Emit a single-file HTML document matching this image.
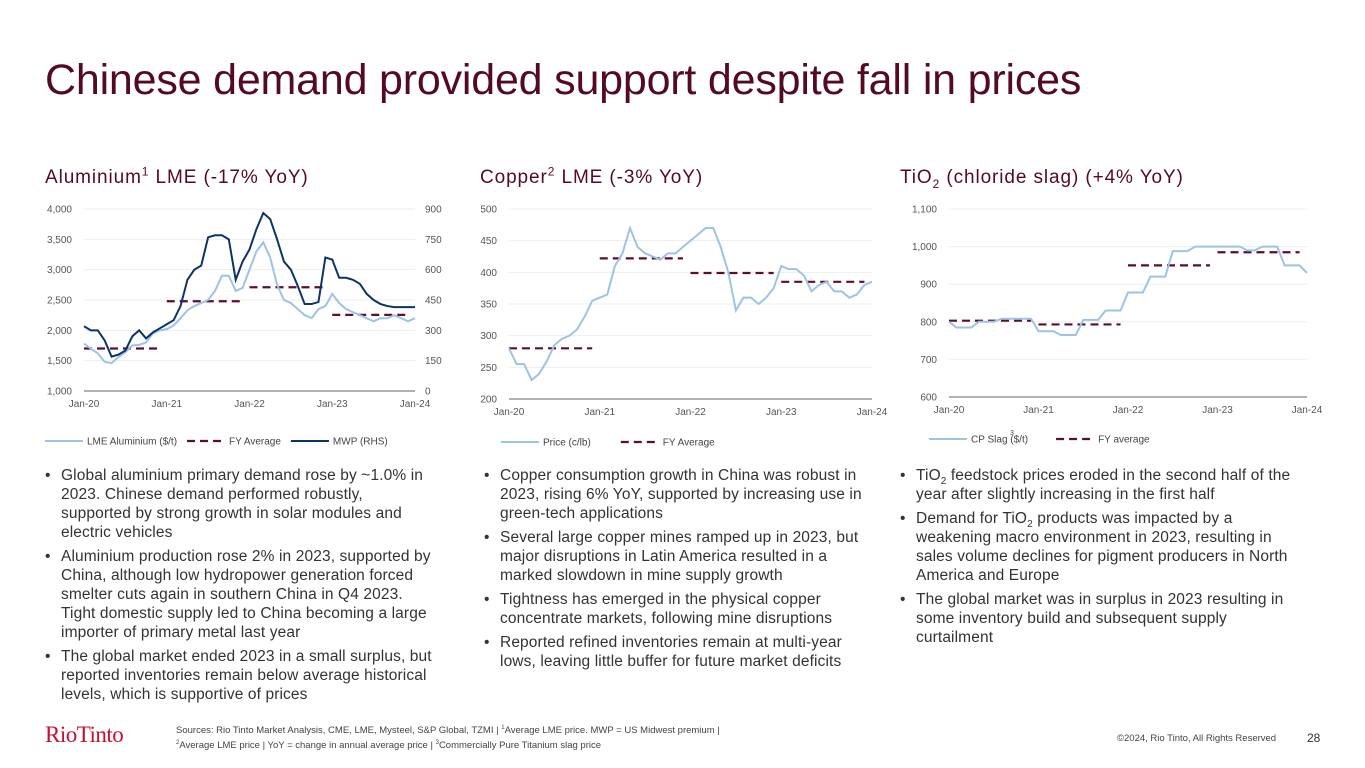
<!DOCTYPE html>
<html><head><meta charset="utf-8"><style>
body{margin:0;width:1365px;height:768px;background:#fff;position:relative;overflow:hidden;font-family:"Liberation Sans",sans-serif;}
.abs{position:absolute;}
h1{position:absolute;left:45px;top:56px;margin:0;font-weight:normal;font-size:43px;color:#540a26;letter-spacing:-0.2px;}
.st{position:absolute;top:167px;font-size:19px;color:#540a26;letter-spacing:0.9px;}
.st sup{font-size:12px;line-height:0;}
.st sub{font-size:12px;line-height:0;}
ul{position:absolute;margin:0;padding:0;list-style:none;font-size:15.5px;letter-spacing:0.12px;line-height:19px;color:#333;}
li{position:relative;padding-left:16px;margin-bottom:5px;}
li:before{content:"•";position:absolute;left:0;}
li sub{font-size:10px;line-height:0;}
svg text{font-family:"Liberation Sans",sans-serif;}
</style></head><body>
<h1>Chinese demand provided support despite fall in prices</h1>
<div class="st" style="left:45px">Aluminium<sup>1</sup> LME (-17% YoY)</div>
<div class="st" style="left:480px">Copper<sup>2</sup> LME (-3% YoY)</div>
<div class="st" style="left:900px">TiO<sub>2</sub> (chloride slag) (+4% YoY)</div>

<svg id="chart" class="abs" style="left:0;top:0" width="1365" height="768"></svg>

<ul style="left:45px;top:466px;width:390px">
<li>Global aluminium primary demand rose by ~1.0% in 2023. Chinese demand performed robustly, supported by strong growth in solar modules and electric vehicles</li>
<li>Aluminium production rose 2% in 2023, supported by China, although low hydropower generation forced smelter cuts again in southern China in Q4 2023. Tight domestic supply led to China becoming a large importer of primary metal last year</li>
<li>The global market ended 2023 in a small surplus, but reported inventories remain below average historical levels, which is supportive of prices</li>
</ul>
<ul style="left:484px;top:466px;width:385px">
<li>Copper consumption growth in China was robust in 2023, rising 6% YoY, supported by increasing use in green-tech applications</li>
<li>Several large copper mines ramped up in 2023, but major disruptions in Latin America resulted in a marked slowdown in mine supply growth</li>
<li>Tightness has emerged in the physical copper concentrate markets, following mine disruptions</li>
<li>Reported refined inventories remain at multi-year lows, leaving little buffer for future market deficits</li>
</ul>
<ul style="left:900px;top:466px;width:406px">
<li>TiO<sub>2</sub> feedstock prices eroded in the second half of the year after slightly increasing in the first half</li>
<li>Demand for TiO<sub>2</sub> products was impacted by a weakening macro environment in 2023, resulting in sales volume declines for pigment producers in North America and Europe</li>
<li>The global market was in surplus in 2023 resulting in some inventory build and subsequent supply curtailment</li>
</ul>

<div class="abs" style="left:45px;top:722px;font-family:'Liberation Serif',serif;font-size:23px;color:#c8102e;letter-spacing:-0.5px">RioTinto</div>
<div class="abs" style="left:176px;top:722px;font-size:9.5px;line-height:12px;color:#444">Sources: Rio Tinto Market Analysis, CME, LME, Mysteel, S&amp;P Global, TZMI | <sup style="font-size:6px">1</sup>Average LME price. MWP = US Midwest premium |<br><sup style="font-size:6px">2</sup>Average LME price | YoY = change in annual average price | <sup style="font-size:6px">3</sup>Commercially Pure Titanium slag price</div>
<div class="abs" style="left:1117px;top:733px;font-size:9.5px;color:#444">©2024, Rio Tinto, All Rights Reserved</div>
<div class="abs" style="left:1307px;top:731px;font-size:12px;color:#333">28</div>

<script>
const xTicks=["Jan-20","Jan-21","Jan-22","Jan-23","Jan-24"];
const alLme=[1780,1700,1620,1480,1460,1560,1640,1750,1760,1800,1950,2000,2020,2080,2200,2330,2400,2450,2500,2650,2900,2900,2650,2700,3000,3300,3450,3200,2750,2500,2450,2350,2250,2200,2350,2400,2600,2450,2350,2300,2250,2200,2150,2200,2200,2250,2200,2150,2200];
const alMwp=[320,300,300,250,170,180,200,270,300,260,290,310,330,350,420,550,600,620,760,770,770,750,550,640,700,800,880,850,750,640,600,520,430,430,440,660,650,560,560,550,530,480,450,430,420,415,415,415,415];
const alAvg=[1700,2480,2710,2255];
const alLeftTicks=[1000,1500,2000,2500,3000,3500,4000];
const alRightTicks=[0,150,300,450,600,750,900];
const cuPrice=[280,255,255,230,240,260,285,295,300,310,330,355,360,365,410,430,470,440,430,425,420,430,430,440,450,460,470,470,440,400,340,360,360,350,360,375,410,405,405,395,370,380,385,370,370,360,365,380,385];
const cuAvg=[280,422,399,385];
const cuTicks=[200,250,300,350,400,450,500];
const tiPrice=[800,785,785,785,800,800,800,808,808,808,808,808,775,775,775,765,765,765,805,805,805,830,830,830,878,878,878,920,920,920,988,988,988,1000,1000,1000,1000,1000,1000,1000,990,990,1000,1000,1000,950,950,950,930];
const tiAvg=[803,793,950,985];
const tiTicks=[600,700,800,900,1000,1100];

const svg=document.getElementById('chart');
const NS='http://www.w3.org/2000/svg';
function mk(tag,at,txt){const e=document.createElementNS(NS,tag);for(const k in at)e.setAttribute(k,at[k]);if(txt!==undefined)e.textContent=txt;svg.appendChild(e);return e;}
function fmt(v){return v.toLocaleString('en-US');}

function chart(o){
  const sx=i=>o.x0+(o.x1-o.x0)*i/48;
  const sy=v=>o.yb+(o.yt-o.yb)*(v-o.min)/(o.max-o.min);
  o.ticks.forEach(t=>{
    const g=mk('line',{x1:o.x0,x2:o.x1,y1:sy(t),y2:sy(t),stroke:t==o.min?'#999':'#eee','stroke-width':t==o.min?1.5:1});
    
    
    const l=mk('text',{x:o.x0-12,y:sy(t)+3.5,'text-anchor':'end','font-size':10,fill:'#555'},fmt(t));
    
    
  });
  xTicks.forEach((t,i)=>{
    const l=mk('text',{x:o.x0+(o.x1-o.x0)*i/4,y:o.yb+16,'text-anchor':'middle','font-size':10,fill:'#555'},t);
    
    
  });
  o.avg.forEach((v,i)=>{
    const a=mk('line',{x1:sx(i*12),x2:sx(i*12+11),y1:sy(v),y2:sy(v),stroke:'#5a0f2e','stroke-width':2.2,'stroke-dasharray':'8,5'});
    
    
  });
  const p=mk('polyline',{points:o.data.map((v,i)=>sx(i)+','+sy(v)).join(' '),fill:'none',stroke:'#9dc3e6','stroke-width':2});
  
  
  if(o.rhs){
    const ry=v=>o.yb+(o.yt-o.yb)*v/900;
    o.rticks.forEach(t=>{const l=mk('text',{x:o.x1+10,y:ry(t)+3.5,'font-size':10,fill:'#555'},t);
      
      });
    const m=mk('polyline',{points:o.rhs.map((v,i)=>sx(i)+','+ry(v)).join(' '),fill:'none',stroke:'#0c3468','stroke-width':2});
    
    
  }
  let lx=o.legX;
  o.legend.forEach(([name,type])=>{
    let e;
    if(type=='l')e=mk('line',{x1:lx,x2:lx+38,y1:o.legY,y2:o.legY,stroke:'#9dc3e6','stroke-width':2});
    else if(type=='d')e=mk('line',{x1:lx,x2:lx+38,y1:o.legY,y2:o.legY,stroke:'#5a0f2e','stroke-width':2.2,'stroke-dasharray':'8,5'});
    else e=mk('line',{x1:lx,x2:lx+38,y1:o.legY,y2:o.legY,stroke:'#0c3468','stroke-width':2});
    
    
    const t=mk('text',{x:lx+42,y:o.legY+3.5,'font-size':10,fill:'#444'},name);
    
    
    lx+=42+t.getComputedTextLength()+o.legGap;
  });
}
chart({x0:84,x1:415,yt:209,yb:391,min:1000,max:4000,ticks:alLeftTicks,data:alLme,avg:alAvg,rhs:alMwp,rticks:alRightTicks,legX:45,legY:441,legGap:10,
  legend:[['LME Aluminium ($/t)','l'],['FY Average','d'],['MWP (RHS)','m']]});
chart({x0:509,x1:872,yt:209,yb:399,min:200,max:500,ticks:cuTicks,data:cuPrice,avg:cuAvg,legX:501,legY:442,legGap:30,
  legend:[['Price (c/lb)','l'],['FY Average','d']]});
chart({x0:949,x1:1307,yt:209,yb:397,min:600,max:1100,ticks:tiTicks,data:tiPrice,avg:tiAvg,legX:929,legY:439,legGap:28,
  legend:[['CP Slag  ($/t)','l'],['FY average','d']]});
const s3=mk('text',{x:1010,y:435,'font-size':7,fill:'#444'},'3');


</script>
</body></html>
